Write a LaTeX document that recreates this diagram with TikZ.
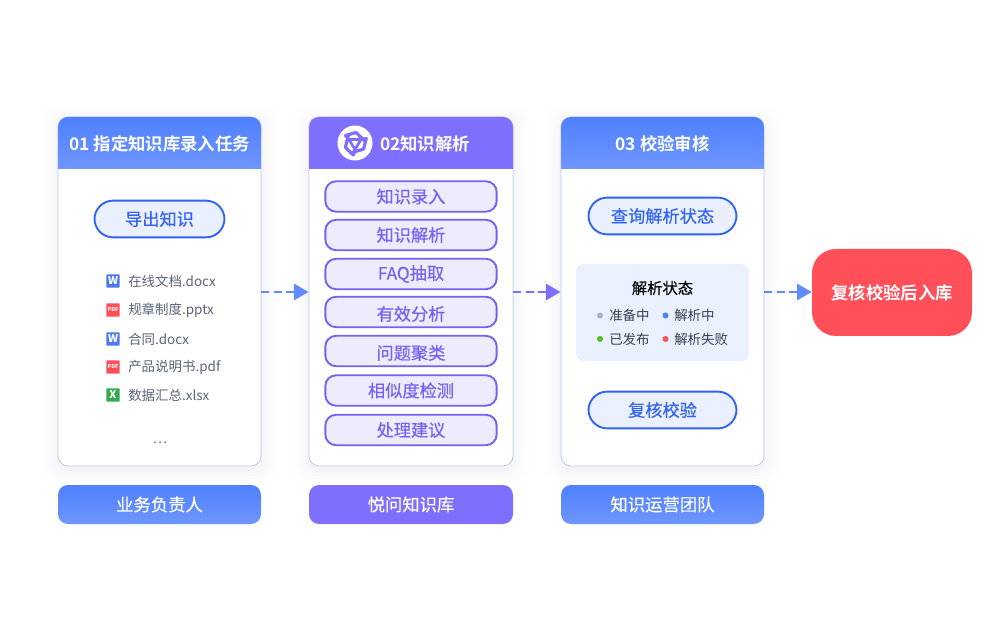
\documentclass[tikz,border=0pt]{standalone}
\usepackage{fontspec}
\setmainfont{Noto Sans CJK SC}
\newfontfamily\cjkb{Noto Sans CJK SC}[BoldFont={Noto Sans CJK SC Bold}]
\newfontfamily\cjkm{Noto Sans CJK SC}[FakeBold=0.25]
\usetikzlibrary{arrows.meta,calc}
\definecolor{bluetop}{HTML}{4F80FF}
\definecolor{bluebot}{HTML}{6F96FF}
\definecolor{purp}{HTML}{7F6FFF}
\definecolor{cardline}{HTML}{BCC8EC}
\definecolor{pillblue}{HTML}{2F62F5}
\definecolor{pillbluefill}{HTML}{EAF0FF}
\definecolor{pillpurp}{HTML}{7460F5}
\definecolor{pillpurpfill}{HTML}{EEEBFF}
\definecolor{panel}{HTML}{EBF0FE}
\definecolor{redbox}{HTML}{FF4F58}
\definecolor{filetext}{HTML}{5A6478}
\definecolor{darktext}{HTML}{3A3F4A}
\definecolor{wicon}{HTML}{4A78F0}
\definecolor{xicon}{HTML}{34A853}
\definecolor{arrowblue}{HTML}{5F8BFF}
\definecolor{arrowpurp}{HTML}{7F6FFF}
\definecolor{dotgray}{HTML}{AEB4C2}
\definecolor{dotgreen}{HTML}{52C41A}
\definecolor{shadowc}{HTML}{30408A}
\tikzset{
  x=0.75pt,y=-0.75pt,
  card/.style={draw=cardline,line width=0.6pt,fill=white,rounded corners=7.5pt},
  pillb/.style={draw=pillblue,line width=1.4pt,fill=pillbluefill,rounded corners=14pt,text=pillblue,font=\cjkm\fontsize{12.9pt}{14pt}\selectfont,anchor=center,inner sep=0pt},
  pillp/.style={draw=pillpurp,line width=1.4pt,fill=pillpurpfill,rounded corners=8pt,text=pillpurp,font=\cjkm\fontsize{12.9pt}{14pt}\selectfont,inner sep=0pt,minimum width=128.5pt,minimum height=22.8pt},
  pilltxt/.style={text=pillpurp,font=\cjkm\fontsize{12.9pt}{14pt}\selectfont,inner sep=0pt},
  headtxt/.style={text=white,font=\cjkb\bfseries\fontsize{13pt}{14pt}\selectfont,inner sep=0pt},
  foottxt/.style={text=white,font=\cjkm\fontsize{13pt}{14pt}\selectfont,inner sep=0pt},
  filetxt/.style={text=filetext,font=\fontsize{10.1pt}{12pt}\selectfont,anchor=west,inner sep=0pt},
  stat/.style={text=darktext,font=\fontsize{10.1pt}{12pt}\selectfont,anchor=west,inner sep=0pt},
  icon/.style={rounded corners=0.6pt,minimum size=10pt,inner sep=0pt,text=white,font=\bfseries\fontsize{8pt}{8pt}\selectfont},
  pdficon/.style={icon,fill=redbox,font=\bfseries\fontsize{4pt}{4pt}\selectfont},
  flow/.style={line width=2.2pt,dash pattern=on 6pt off 3.2pt,-{Triangle[length=11pt,width=12pt]}},
}
\newcommand{\softshadow}[4]{%
  \foreach \d/\o in {16/0.004,13/0.005,10/0.006,7/0.007,4/0.007,2/0.007}{
    \fill[shadowc,opacity=\o,rounded corners=10pt] (#1-\d,#2-\d+3) rectangle (#3+\d,#4+\d+3);
  }}
\newcommand{\cardhead}[6]{%
  \begin{scope}
    \clip[rounded corners=7.5pt] (#1,#2) rectangle (#3,#2+100);
    \shade[top color=#5,bottom color=#6] (#1,#2) rectangle (#3,#4);
  \end{scope}}
\begin{document}
\begin{tikzpicture}
\useasboundingbox (0,0) rectangle (1000,620);
\fill[white] (0,0) rectangle (1000,620);
% shadows
\softshadow{58}{117}{261}{466}
\softshadow{309}{117}{513}{466}
\softshadow{561}{117}{764}{466}
% cards
\node[card,minimum width=152.25pt,minimum height=261.75pt,inner sep=0pt] (c1) at (159.5,291.5) {};
\node[card,minimum width=153pt,minimum height=261.75pt,inner sep=0pt] (c2) at (411,291.5) {};
\node[card,minimum width=152.25pt,minimum height=261.75pt,inner sep=0pt] (c3) at (662.5,291.5) {};
\cardhead{58}{117}{261}{169}{bluetop}{bluebot}
\cardhead{309}{117}{513}{169}{purp}{purp}
\cardhead{561}{117}{764}{169}{bluetop}{bluebot}
\node[headtxt] (h1) at (159.5,143.5) {01 指定知识库录入任务};
\node[headtxt] (h2) at (425,143.5) {02知识解析};
\node[headtxt] (h3) at (662.5,143.5) {03 校验审核};
% logo
\fill[white] (355,143) circle (17.5);
\begin{scope}[shift={(355,143)}]
  \draw[purp,line width=2pt,line join=round] (-6,-3.5) -- (6,-3.5) -- (0,6.5) -- cycle;
  \foreach \a in {0,120,240}{
    \begin{scope}[rotate=\a]
      \draw[purp,line width=2.4pt,line join=round,line cap=round] (-6,-3.5) -- (-9.5,-7.5) -- (1,-10.5) -- (10.5,-1.5);
    \end{scope}
  }
\end{scope}
% pills col 1
\node[pillb,minimum width=97.5pt,minimum height=27.6pt] (p1) at (159.5,219) {导出知识};
% files
\node[icon,fill=wicon] (i1) at (113,281) {W};
\node[pdficon] (i2) at (113,310) {PDF};
\node[icon,fill=wicon] (i3) at (113,339) {W};
\node[pdficon] (i4) at (113,367) {PDF};
\node[icon,fill=xicon] (i5) at (113,395) {X};
\node[filetxt] (f1) at (128,281) {在线文档.docx};
\node[filetxt] (f2) at (128,310) {规章制度.pptx};
\node[filetxt] (f3) at (128,339) {合同.docx};
\node[filetxt] (f4) at (128,367.5) {产品说明书.pdf};
\node[filetxt] (f5) at (128,395) {数据汇总.xlsx};
\node[text=filetext,font=\fontsize{10pt}{12pt}\selectfont,inner sep=0pt] (dots) at (160,443) {…};
% col 2 pills
\node[pillp] (q1) at (411,196.5) {知识录入};
\node[pillp] (q2) at (411,235) {知识解析};
\node[pillp] (q3) at (411,274) {FAQ抽取};
\node[pillp] (q4) at (411,312) {};
\node[pilltxt] (q4t) at (411,314) {有效分析};
\node[pillp] (q5) at (411,351) {};
\node[pilltxt] (q5t) at (411,353) {问题聚类};
\node[pillp] (q6) at (411,390.5) {相似度检测};
\node[pillp] (q7) at (411,430) {处理建议};
% col 3
\node[pillb,minimum width=111pt,minimum height=27.6pt] (r1) at (662.5,216) {查询解析状态};
\node[pillb,minimum width=111pt,minimum height=27.6pt] (r2) at (662.5,410) {复核校验};
\node[fill=panel,rounded corners=6pt,minimum width=129.75pt,minimum height=72.75pt,inner sep=0pt] (panel) at (662.5,312.5) {};
\node[text=black,font=\cjkm\fontsize{11.5pt}{12pt}\selectfont,inner sep=0pt] (pt) at (662.5,288) {解析状态};
\fill[dotgray] (600,315.5) circle (3);
\fill[bluetop] (665.5,315.5) circle (3);
\fill[dotgreen] (600,339) circle (3);
\fill[redbox] (665.5,339) circle (3);
\node[stat] (s1) at (609,315.5) {准备中};
\node[stat] (s2) at (674,315.5) {解析中};
\node[stat] (s3) at (609,339) {已发布};
\node[stat] (s4) at (674,339) {解析失败};
% footers
\node[inner sep=0pt,minimum width=152.25pt,minimum height=29.25pt,rounded corners=7.5pt,top color=bluetop,bottom color=bluebot] (g1) at (159.5,504.5) {};
\node[inner sep=0pt,minimum width=153pt,minimum height=29.25pt,rounded corners=7.5pt,fill=purp] (g2) at (411,504.5) {};
\node[inner sep=0pt,minimum width=152.25pt,minimum height=29.25pt,rounded corners=7.5pt,top color=bluetop,bottom color=bluebot] (g3) at (662.5,504.5) {};
\node[foottxt] at (g1) {业务负责人};
\node[foottxt] at (g2) {悦问知识库};
\node[foottxt] at (g3) {知识运营团队};
% red box
\node[fill=redbox,rounded corners=18pt,minimum width=120pt,minimum height=65.25pt,inner sep=0pt] (red) at (892,292.5) {};
\node[text=white,font=\cjkb\bfseries\fontsize{13pt}{14pt}\selectfont,inner sep=0pt] at (892,292.5) {复核校验后入库};
% arrows
\coordinate (a1) at (c1.east|-0,292);
\coordinate (b1) at (c2.west|-0,292);
\coordinate (a2) at (c2.east|-0,292);
\coordinate (b2) at (c3.west|-0,292);
\coordinate (a3) at (c3.east|-0,292);
\coordinate (b3) at (red.west|-0,292);
\draw[flow,draw=arrowblue,fill=arrowblue] (a1) -- (b1);
\draw[flow,draw=arrowpurp,fill=arrowpurp] (a2) -- (b2);
\draw[flow,draw=arrowblue,fill=arrowblue] (a3) -- (b3);
\end{tikzpicture}
\end{document}
